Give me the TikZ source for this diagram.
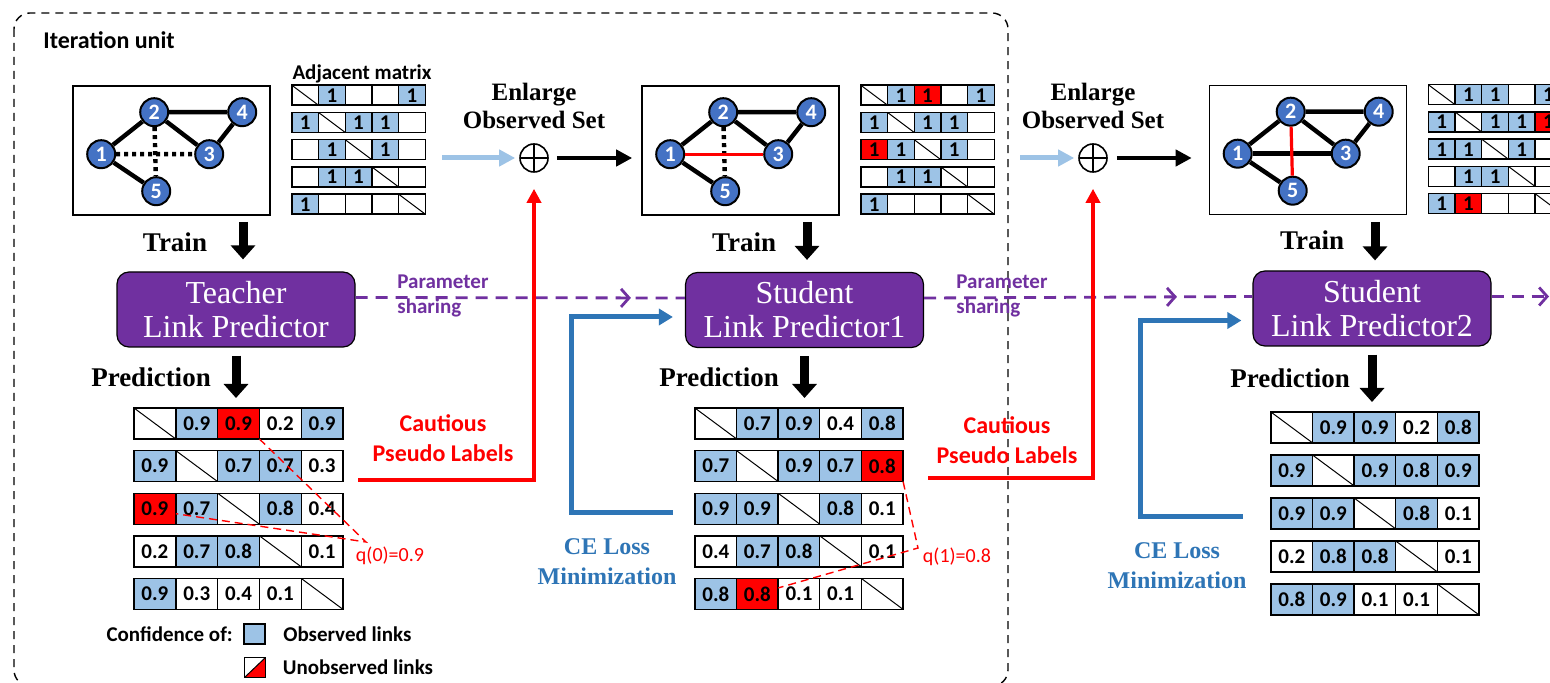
\documentclass[tikz,border=0pt]{standalone}
\usepackage{fontspec}
\setmainfont{Liberation Serif}
\setsansfont{Carlito}
\usetikzlibrary{arrows.meta,positioning,calc,decorations.markings}
\definecolor{Purple}{HTML}{7030A0}
\definecolor{NodeBlue}{HTML}{4472C4}
\definecolor{CellBlue}{HTML}{9DC3E6}
\definecolor{LineBlue}{HTML}{2E75B6}
\definecolor{Red}{HTML}{FF0000}

\begin{document}
\begin{tikzpicture}[x=0.5pt,y=-0.5pt,
  iterbox/.style={line width=0.7pt,dash pattern=on 4pt off 3pt,rounded corners=8pt},
  gbox/.style={draw,line width=0.8pt,minimum width=98.5pt,minimum height=64.5pt,inner sep=0pt},
  gnode/.style={circle,draw,line width=1pt,fill=NodeBlue,text=white,minimum size=14pt,inner sep=0pt,font={\sffamily\bfseries\fontsize{11}{10}\selectfont}},
  glink/.style={line width=2.2pt},
  gdot/.style={line width=2.2pt,dash pattern=on 2pt off 2pt},
  gnew/.style={line width=1.6pt,draw=Red},
  cell/.style={draw,line width=0.7pt,inner sep=0pt,outer sep=0pt},
  acell/.style={cell,minimum width=13.35pt,minimum height=10pt,font={\sffamily\bfseries\fontsize{10.5}{9}\selectfont}},
  pcell/.style={cell,minimum width=20.9pt,minimum height=15.5pt,font={\sffamily\bfseries\fontsize{10.5}{10}\selectfont}},
  cobs/.style={fill=CellBlue},
  cnew/.style={fill=Red},
  cnil/.style={fill=white},
  cdia/.style={fill=white,path picture={\draw[line width=0.5pt] (path picture bounding box.north west) -- (path picture bounding box.south east);}},
  pred/.style={draw,line width=0.6pt,rounded corners=6pt,fill=Purple,text=white,minimum width=119pt,minimum height=37.5pt,align=center,font={\fontsize{16}{17}\selectfont}},
  steplbl/.style={font={\bfseries\fontsize{13.5}{14}\selectfont}},
  enl/.style={align=center,font={\bfseries\fontsize{12.5}{14}\selectfont}},
  cpl/.style={text=Red,align=center,font={\sffamily\bfseries\fontsize{12}{15}\selectfont}},
  cel/.style={text=LineBlue,align=center,font={\bfseries\fontsize{12}{15}\selectfont}},
  shlbl/.style={text=Purple,align=left,anchor=west,inner sep=0pt,font={\sffamily\bfseries\fontsize{10.5}{12.5}\selectfont}},
  qlbl/.style={text=Red,inner sep=0pt,font={\sffamily\fontsize{10}{12}\selectfont}},
  lgbox/.style={draw,line width=0.9pt,minimum width=10.5pt,minimum height=10pt,inner sep=0pt},
  lgnew/.style={fill=white,path picture={\fill[Red] (path picture bounding box.south west) -- (path picture bounding box.north east) -- (path picture bounding box.south east) -- cycle; \draw[line width=0.5pt] (path picture bounding box.south west) -- (path picture bounding box.north east);}},
  lgtxt/.style={inner sep=0pt,font={\sffamily\bfseries\fontsize{10.5}{12}\selectfont}},
  oplus/.style={circle,draw,line width=0.8pt,minimum size=14pt,inner sep=0pt,path picture={\draw[line width=0.8pt] (path picture bounding box.north) -- (path picture bounding box.south) (path picture bounding box.west) -- (path picture bounding box.east);}},
  fat/.style={line width=4.5pt,-{Triangle[width=12pt,length=7pt]}},
  blk/.style={line width=2pt,-{Triangle[width=8pt,length=8pt]}},
  lb/.style={draw=CellBlue,line width=2.5pt,-{Triangle[width=8pt,length=8pt]}},
  pl/.style={draw=Red,line width=2pt,-{Triangle[width=7pt,length=7pt]}},
  ce/.style={draw=LineBlue,line width=2.5pt,-{Triangle[width=8pt,length=7pt]}},
  qline/.style={draw=Red,line width=0.7pt,dash pattern=on 4pt off 2.5pt},
  sharebase/.style={draw=Purple,line width=1.4pt,dash pattern=on 6pt off 4pt},
  share/.style={sharebase,postaction={decorate},decoration={markings,mark=at position #1 with {\arrow{Straight Barb[length=4pt,width=9pt]}}}}
]
\useasboundingbox (0,0) rectangle (1550,683);
\fill[white] (0,0) rectangle (1550,683);

% iteration unit frame
\draw[iterbox] (14,13) rectangle (1008,686);
\node[anchor=west,inner sep=0pt,font={\sffamily\bfseries\fontsize{12}{12}\selectfont}] (iter) at (43,40) {Iteration unit};

% graphs
\node[gbox] (ga) at (171.5,150.5) {};
\node[gbox] (gb) at (740.5,150.5) {};
\node[gbox] (gc) at (1308,150) {};
\foreach \g in {ga,gb,gc}{
  \foreach \n/\dx/\dy in {1/29/69,2/82/27,3/137/69,4/170/27,5/84/106}
    \node[gnode] (\g\n) at ($(\g.north west)+(\dx,\dy)$) {\n};
  \draw[glink] (\g1) -- (\g2) (\g2) -- (\g4) (\g4) -- (\g3) (\g3) -- (\g2) (\g1) -- (\g5);
}
\draw[gdot] (ga1) -- (ga3) (ga2) -- (ga5);
\draw[gdot] (gb2) -- (gb5);
\draw[gnew] (gb1) -- (gb3);
\draw[glink] (gc1) -- (gc3);
\draw[gnew] (gc2) -- (gc5);

% adjacent matrices
\node[font={\sffamily\bfseries\fontsize{10.5}{10}\selectfont}] (adjlbl) at (362,74) {Adjacent matrix};
\foreach \row [count=\ri] in {{cdia/,cobs/1,cnil/,cnil/,cobs/1},{cobs/1,cdia/,cobs/1,cobs/1,cnil/},{cnil/,cobs/1,cdia/,cobs/1,cnil/},{cnil/,cobs/1,cobs/1,cdia/,cnil/},{cobs/1,cnil/,cnil/,cnil/,cdia/}}
  \foreach \kind/\val [count=\ci] in \row
    \node[acell,\kind] (a1-\ri-\ci) at ($(ga.north east)+({21+26.7*(\ci-0.5)},{10+27.25*(\ri-1)})$) {\val};
\foreach \row [count=\ri] in {{cdia/,cobs/1,cnew/1,cnil/,cobs/1},{cobs/1,cdia/,cobs/1,cobs/1,cnil/},{cnew/1,cobs/1,cdia/,cobs/1,cnil/},{cnil/,cobs/1,cobs/1,cdia/,cnil/},{cobs/1,cnil/,cnil/,cnil/,cdia/}}
  \foreach \kind/\val [count=\ci] in \row
    \node[acell,\kind] (a2-\ri-\ci) at ($(gb.north east)+({21+26.7*(\ci-0.5)},{10+27.25*(\ri-1)})$) {\val};
\foreach \row [count=\ri] in {{cdia/,cobs/1,cobs/1,cnil/,cobs/1},{cobs/1,cdia/,cobs/1,cobs/1,cnew/1},{cobs/1,cobs/1,cdia/,cobs/1,cnil/},{cnil/,cobs/1,cobs/1,cdia/,cnil/},{cobs/1,cnew/1,cnil/,cnil/,cdia/}}
  \foreach \kind/\val [count=\ci] in \row
    \node[acell,\kind] (a3-\ri-\ci) at ($(gc.north east)+({21+26.7*(\ci-0.5)},{10+27.25*(\ri-1)})$) {\val};

% enlarge observed set
\node[enl] (enl1) at (534,106) {Enlarge\\Observed Set};
\node[enl] (enl2) at (1093,106) {Enlarge\\Observed Set};
\node[oplus] (plus1) at (534,158) {};
\node[oplus] (plus2) at (1093,158) {};
\coordinate (in1) at (442,158);
\coordinate (in2) at (1020,158);
\draw[lb,shorten >=2pt] (in1) -- (plus1);
\draw[lb,shorten >=2pt] (in2) -- (plus2);
\draw[blk,shorten <=4pt,shorten >=4.5pt] (plus1) -- (plus1 -| gb.west);
\draw[blk,shorten <=4.5pt,shorten >=8.5pt] (plus2) -- (plus2 -| gc.west);

% predictors
\node[pred] (teach) at (236,309.5) {Teacher\\Link Predictor};
\node[pred] (stu1) at (804.5,310) {Student\\Link Predictor1};
\node[pred] (stu2) at (1372,308.5) {Student\\Link Predictor2};

\node[steplbl] (tr1l) at (175,242) {Train};
\node[steplbl] (tr2l) at (744,242) {Train};
\node[steplbl] (tr3l) at (1312,240) {Train};
\coordinate (tr1) at (243,222);
\coordinate (tr2) at (807,222);
\coordinate (tr3) at (1375,222);
\draw[fat,shorten >=6pt] (tr1) -- (tr1 |- teach.north);
\draw[fat,shorten >=6pt] (tr2) -- (tr2 |- stu1.north);
\draw[fat,shorten >=5pt] (tr3) -- (tr3 |- stu2.north);

% parameter sharing
\draw[share=0.836] ([yshift=6pt]teach.east) -- ([yshift=6pt]stu1.west);
\draw[share=0.77] ([yshift=6pt]stu1.east) -- ([yshift=6pt]stu2.west);
\coordinate (sh3) at (1549,296.5);
\draw[sharebase,-{Straight Barb[length=4pt,width=9pt]}] ([yshift=6pt]stu2.east) -- (sh3);
\node[shlbl] (sh1l) at (397,296) {Parameter\\sharing};
\node[shlbl] (sh2l) at (956,296) {Parameter\\sharing};

% prediction matrices
\node[steplbl] (pr1l) at (151,377) {Prediction};
\node[steplbl] (pr2l) at (719,377) {Prediction};
\node[steplbl] (pr3l) at (1290,378) {Prediction};
\coordinate (pm1) at (134,408);
\coordinate (pm2) at (695,408);
\coordinate (pm3) at (1271,412);
\foreach \row [count=\ri] in {{cdia/,cobs/0.9,cnew/0.9,cnil/0.2,cobs/0.9},{cobs/0.9,cdia/,cobs/0.7,cobs/0.7,cnil/0.3},{cnew/0.9,cobs/0.7,cdia/,cobs/0.8,cnil/0.4},{cnil/0.2,cobs/0.7,cobs/0.8,cdia/,cnil/0.1},{cobs/0.9,cnil/0.3,cnil/0.4,cnil/0.1,cdia/}}
  \foreach \kind/\val [count=\ci] in \row
    \node[pcell,\kind] (p1-\ri-\ci) at ($(pm1)+({41.8*(\ci-0.5)},{15.5+42.6*(\ri-1)})$) {\val};
\foreach \row [count=\ri] in {{cdia/,cobs/0.7,cobs/0.9,cnil/0.4,cobs/0.8},{cobs/0.7,cdia/,cobs/0.9,cobs/0.7,cnew/0.8},{cobs/0.9,cobs/0.9,cdia/,cobs/0.8,cnil/0.1},{cnil/0.4,cobs/0.7,cobs/0.8,cdia/,cnil/0.1},{cobs/0.8,cnew/0.8,cnil/0.1,cnil/0.1,cdia/}}
  \foreach \kind/\val [count=\ci] in \row
    \node[pcell,\kind] (p2-\ri-\ci) at ($(pm2)+({41.6*(\ci-0.5)},{15.5+42.6*(\ri-1)})$) {\val};
\foreach \row [count=\ri] in {{cdia/,cobs/0.9,cobs/0.9,cnil/0.2,cobs/0.8},{cobs/0.9,cdia/,cobs/0.9,cobs/0.8,cobs/0.9},{cobs/0.9,cobs/0.9,cdia/,cobs/0.8,cnil/0.1},{cnil/0.2,cobs/0.8,cobs/0.8,cdia/,cnil/0.1},{cobs/0.8,cobs/0.9,cnil/0.1,cnil/0.1,cdia/}}
  \foreach \kind/\val [count=\ci] in \row
    \node[pcell,\kind] (p3-\ri-\ci) at ($(pm3)+({41.6*(\ci-0.5)},{15.5+43*(\ri-1)})$) {\val};

\draw[fat,shorten <=4pt,shorten >=5pt] (teach.south) -- (teach.south |- p1-1-3.north);
\draw[fat,shorten <=4pt,shorten >=5pt] (stu1.south) -- (stu1.south |- p2-1-3.north);
\draw[fat,shorten <=4pt,shorten >=5pt] (stu2.south) -- (stu2.south |- p3-1-3.north);

% confidence of pseudo labels
\coordinate (q0pt) at (366,542);
\coordinate (q1pt) at (918,548);
\node[qlbl] (q0) at (390,556) {q(0)=0.9};
\node[qlbl] (q1) at (957,557) {q(1)=0.8};
\draw[qline] (p1-1-3.south east) -- (q0pt) -- ($(p1-3-1.east)+(0,5)$);
\draw[qline] (p2-2-5.south east) -- (q1pt) -- ($(p2-5-2.east)+(0,-6)$);

% cautious pseudo labels
\node[cpl] (cpl1) at (443,438) {Cautious\\Pseudo Labels};
\node[cpl] (cpl2) at (1007,440) {Cautious\\Pseudo Labels};
\draw[pl,shorten >=8pt] ($(p1-2-5.south east)+(15,-2)$) -| (plus1.south);
\draw[pl,shorten >=8pt] ($(p2-2-5.south east)+(25,-4)$) -| (plus2.south);

% CE loss
\node[cel] (ce1l) at (607,562) {CE Loss\\Minimization};
\node[cel] (ce2l) at (1177,566) {CE Loss\\Minimization};
\draw[ce,shorten >=6pt] ($(p2-3-1.west)+(-22,4)$) -- ++(-101,0) |- ([yshift=-3.5pt]stu1.west);
\draw[ce,shorten >=5.5pt] ($(p3-3-1.west)+(-28,2.5)$) -- ++(-102,0) |- ([yshift=-6pt]stu2.west);

% legend
\node[lgbox,fill=CellBlue] (lg1) at (254.5,634) {};
\node[lgbox,lgnew] (lg2) at (255,667.5) {};
\node[lgtxt,left=5pt of lg1] (lgt) {Confidence of:};
\node[lgtxt,right=8.5pt of lg1] (lgo) {Observed links};
\node[lgtxt,right=8pt of lg2] (lgu) {Unobserved links};
\end{tikzpicture}
\end{document}
